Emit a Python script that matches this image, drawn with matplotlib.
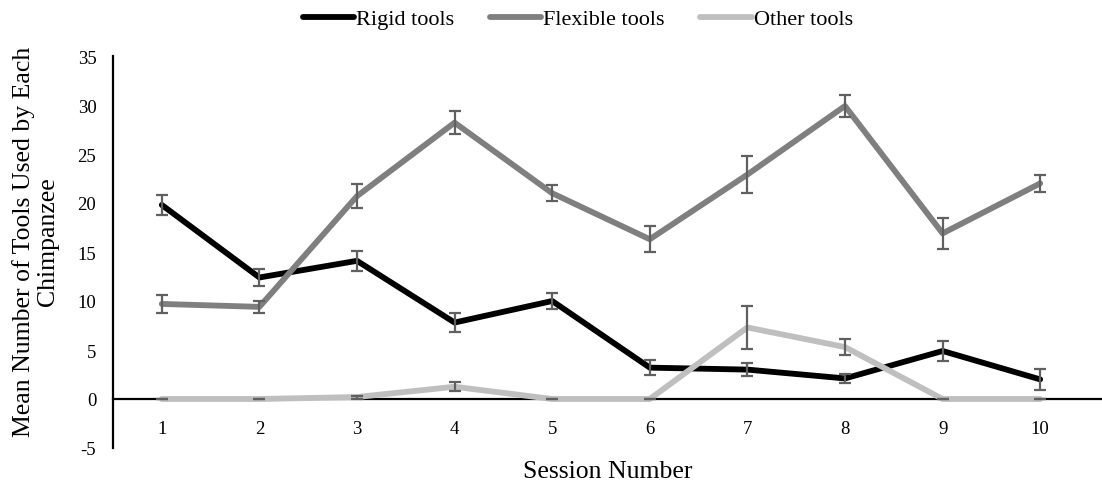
import matplotlib
matplotlib.use("Agg")
import matplotlib.pyplot as plt
import numpy as np

sessions = [1, 2, 3, 4, 5, 6, 7, 8, 9, 10]

rigid = [19.8, 12.4, 14.1, 7.8, 10.0, 3.2, 3.0, 2.1, 4.9, 2.0]
rigid_err = [1.0, 0.9, 1.0, 1.0, 0.8, 0.8, 0.7, 0.45, 1.0, 1.1]

flexible = [9.7, 9.4, 20.7, 28.2, 21.0, 16.3, 22.9, 29.9, 16.9, 22.0]
flexible_err = [0.9, 0.6, 1.2, 1.2, 0.8, 1.35, 1.9, 1.15, 1.55, 0.85]

other = [0.0, 0.0, 0.2, 1.25, 0.0, 0.0, 7.3, 5.3, 0.0, 0.0]
other_err = [0.0, 0.0, 0.15, 0.45, 0.0, 0.0, 2.15, 0.85, 0.0, 0.0]

series_names = ["Rigid tools", "Flexible tools", "Other tools"]
series_colors = ["#000000", "#7f7f7f", "#bfbfbf"]

y_ticks = [-5, 0, 5, 10, 15, 20, 25, 30, 35]

plt.rcParams["font.family"] = ["Liberation Serif", "DejaVu Serif"]
plt.rcParams["axes.unicode_minus"] = False

fig = plt.figure(figsize=(11.02, 4.85), dpi=100)
W, H = 1102, 485
left, right, top, bottom = 113, 1102, 57, 449
ax = fig.add_axes([left / W, 1 - bottom / H, (right - left) / W, (bottom - top) / H])

x = np.array(sessions)
data = [(rigid, rigid_err), (flexible, flexible_err), (other, other_err)]
for (vals, errs), name, col in zip(data, series_names, series_colors):
    ax.plot(x, vals, color=col, lw=4.2, label=name, zorder=3,
            solid_capstyle="round", solid_joinstyle="round")
for (vals, errs), col in zip(data, series_colors):
    ax.errorbar(x, vals, yerr=errs, fmt="none", ecolor="#606060",
                elinewidth=1.6, capsize=4.5, capthick=1.6, zorder=4)

ax.set_xlim(0.5, 10.5 + (W - 1089) / 97.4)
ax.set_ylim(-5, 35)
ax.set_yticks(y_ticks)
ax.set_xticks(sessions)
ax.set_xticklabels([str(s) for s in sessions])

ax.spines["top"].set_visible(False)
ax.spines["right"].set_visible(False)
ax.spines["bottom"].set_position(("data", 0))
ax.spines["bottom"].set_linewidth(1.6)
ax.spines["left"].set_linewidth(1.6)
ax.spines["bottom"].set_zorder(1)
ax.tick_params(axis="both", length=0, labelsize=13.5)
ax.tick_params(axis="x", pad=15)
ax.tick_params(axis="y", pad=12)

ax.set_xlabel("Session Number", fontsize=18.5, labelpad=0)
ax.xaxis.set_label_coords(0.5, -0.03)
ax.set_ylabel("Mean Number of Tools Used by Each\nChimpanzee", fontsize=18.5,
              linespacing=1.12)
ax.yaxis.set_label_coords(-0.055, 0.528)

fig.legend(loc="center", bbox_to_anchor=(578 / W, 1 - 20 / H), ncol=3,
           frameon=False, fontsize=16, handlelength=2.3, handletextpad=0.1,
           columnspacing=1.6)

fig.savefig("out.png", dpi=100)
